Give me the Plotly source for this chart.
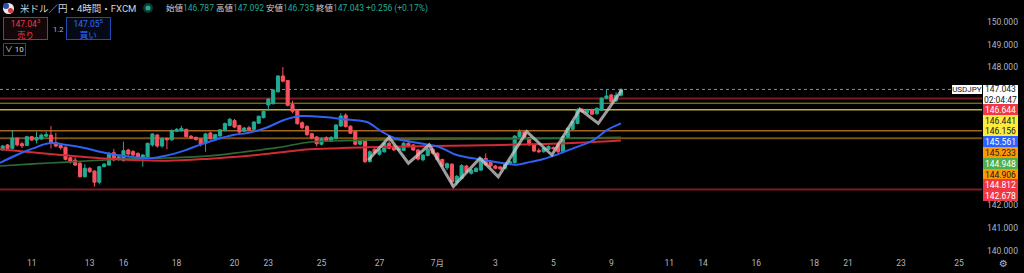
import datetime as dt
import plotly.graph_objects as go

# ---------------- data ----------------
OPEN = [144.40, 144.62, 144.47, 144.91, 144.67, 144.60, 144.98, 144.83, 144.88, 145.00,
        145.05, 144.72, 144.60, 144.52, 144.06, 143.96, 143.82, 143.23, 143.60, 143.48,
        142.99, 143.67, 143.74, 144.28, 143.98, 143.93, 144.40, 144.33, 144.25, 144.03,
        144.10, 144.62, 145.05, 144.57, 144.90, 144.84, 145.22, 145.25, 145.30, 145.00,
        144.95, 144.88, 144.69, 145.14, 144.87, 145.01, 145.26, 145.47, 145.69, 145.47,
        145.22, 145.37, 145.30, 145.57, 145.81, 146.36, 146.42, 146.94, 147.63, 147.43,
        146.38, 146.13, 145.59, 145.43, 145.11, 144.97, 144.65, 144.93, 144.78, 144.90,
        145.45, 145.92, 145.44, 145.20, 144.65, 144.80, 143.89, 144.43, 144.21, 144.32,
        144.69, 144.57, 144.40, 144.38, 144.69, 144.62, 144.40, 143.97, 144.16, 144.44,
        144.26, 143.98, 143.62, 143.78, 143.00, 143.15, 143.70, 143.38, 143.46, 143.52,
        144.03, 143.85, 143.70, 143.66, 143.60, 143.80, 143.85, 144.98, 145.18, 144.93,
        144.62, 144.38, 144.32, 144.42, 144.50, 144.66, 144.32, 144.92, 145.30, 145.56,
        146.17, 146.02, 146.17, 145.98, 146.14, 146.66, 146.80, 146.55, 146.787]
HIGH = [144.62, 144.66, 145.27, 144.95, 144.76, 145.02, 145.00, 145.20, 145.12, 145.20,
        145.44, 145.15, 144.65, 144.55, 144.10, 144.11, 143.90, 143.78, 143.65, 143.50,
        143.70, 143.83, 144.32, 144.45, 144.15, 144.76, 144.45, 144.40, 144.30, 144.22,
        144.72, 145.12, 145.10, 144.95, 144.95, 145.30, 145.35, 145.45, 145.33, 145.05,
        144.98, 144.92, 145.15, 145.20, 145.10, 145.30, 145.60, 145.80, 145.75, 145.50,
        145.40, 145.45, 145.65, 145.90, 146.12, 146.66, 147.05, 147.66, 148.02, 147.45,
        146.55, 146.18, 145.65, 145.48, 145.15, 145.00, 144.95, 145.00, 145.00, 145.52,
        146.00, 146.00, 145.47, 145.25, 144.85, 144.85, 144.38, 144.55, 144.50, 144.75,
        144.98, 144.60, 144.52, 144.75, 144.82, 144.66, 144.45, 144.22, 144.50, 144.52,
        144.30, 144.02, 143.85, 143.82, 143.30, 143.78, 143.75, 143.58, 143.65, 144.05,
        144.25, 143.95, 143.75, 143.70, 143.85, 143.95, 145.05, 145.30, 145.25, 144.97,
        144.66, 144.48, 144.52, 144.60, 144.56, 144.75, 145.02, 145.38, 145.68, 146.22,
        146.22, 146.20, 146.20, 146.26, 146.70, 147.02, 146.85, 146.92, 147.092]
LOW = [144.36, 144.42, 144.42, 144.55, 144.48, 144.56, 144.80, 144.69, 144.84, 144.97,
       144.47, 144.52, 144.42, 143.95, 143.80, 143.70, 143.20, 143.20, 143.40, 142.80,
       142.90, 143.65, 143.70, 143.90, 143.92, 143.90, 144.15, 144.10, 143.98, 143.67,
       144.05, 144.55, 144.50, 144.50, 144.43, 144.80, 145.18, 145.20, 144.95, 144.88,
       144.80, 144.55, 144.32, 144.85, 144.83, 144.98, 145.22, 145.44, 145.35, 145.10,
       145.18, 145.22, 145.27, 145.55, 145.78, 146.12, 146.38, 146.90, 147.35, 146.30,
       146.00, 145.50, 145.30, 145.00, 144.85, 144.55, 144.60, 144.75, 144.75, 144.85,
       145.40, 145.38, 145.10, 144.60, 144.60, 143.82, 143.85, 144.22, 144.15, 144.28,
       144.42, 144.35, 144.36, 144.35, 144.52, 144.36, 143.94, 143.90, 144.12, 144.20,
       143.92, 143.66, 143.52, 142.80, 142.85, 143.10, 143.40, 143.32, 143.42, 143.48,
       143.70, 143.65, 143.55, 143.52, 143.55, 143.76, 143.80, 144.95, 144.90, 144.58,
       144.30, 144.26, 144.28, 144.38, 144.40, 144.25, 144.25, 144.90, 145.28, 145.52,
       146.02, 145.98, 145.92, 145.95, 146.10, 146.62, 146.48, 146.50, 146.735]
CLOSE = [144.57, 144.47, 144.91, 144.62, 144.58, 144.98, 144.83, 144.94, 145.05, 145.07,
         144.69, 144.57, 144.50, 143.99, 143.89, 143.74, 143.23, 143.60, 143.45, 142.99,
         143.67, 143.78, 144.25, 143.96, 144.10, 144.37, 144.22, 144.18, 144.03, 144.18,
         144.69, 145.10, 144.57, 144.89, 144.84, 145.24, 145.30, 145.34, 144.98, 144.92,
         144.86, 144.66, 145.10, 144.89, 145.07, 145.28, 145.55, 145.74, 145.40, 145.18,
         145.36, 145.28, 145.62, 145.87, 146.09, 146.62, 147.02, 147.63, 147.40, 146.35,
         146.09, 145.55, 145.37, 145.07, 144.92, 144.67, 144.88, 144.80, 144.95, 145.49,
         145.88, 145.42, 145.13, 144.65, 144.80, 143.89, 144.32, 144.28, 144.40, 144.69,
         144.47, 144.40, 144.48, 144.69, 144.57, 144.40, 144.00, 144.18, 144.44, 144.26,
         143.98, 143.70, 143.80, 143.00, 143.25, 143.72, 143.45, 143.52, 143.60, 144.03,
         143.75, 143.70, 143.60, 143.58, 143.82, 143.89, 145.00, 145.20, 144.95, 144.62,
         144.35, 144.32, 144.47, 144.55, 144.46, 144.32, 144.98, 145.35, 145.63, 146.17,
         146.06, 146.15, 145.96, 146.22, 146.66, 146.76, 146.51, 146.79, 147.043]

# moving averages (candle position, price)
BLUE_X = [-0.56, 2.9, 6.3, 9.8, 13.3, 16.7, 20.1, 23.6, 27.0, 30.5, 34.0, 37.4, 40.8, 44.3,
          47.7, 51.2, 54.7, 58.1, 61.6, 65.0, 68.4, 71.9, 75.4, 78.5, 81.2, 86.4, 90.5, 94.0,
          98.8, 103.0, 106.4, 109.2, 111.2, 114.0, 118.1, 122.3, 125.1, 128.0]
BLUE_Y = [143.84, 144.18, 144.47, 144.70, 144.62, 144.50, 144.32, 144.18, 144.09, 144.04,
          144.16, 144.36, 144.62, 144.86, 145.05, 145.16, 145.38, 145.70, 145.88, 145.86,
          145.80, 145.72, 145.62, 145.20, 144.91, 144.69, 144.52, 144.18, 143.99, 143.84,
          143.75, 143.88, 143.96, 144.14, 144.47, 144.83, 145.27, 145.561]
RED_X = [-0.56, 9.8, 20.1, 27.0, 34.0, 42.9, 49.8, 56.8, 63.6, 67.8, 75.4, 89.1, 103.0, 116.8, 128.0]
RED_Y = [144.43, 144.22, 144.04, 143.96, 143.93, 144.02, 144.12, 144.28, 144.43, 144.46,
         144.52, 144.57, 144.62, 144.69, 144.812]
GREEN_X = [-0.56, 6.3, 13.3, 20.1, 27.0, 34.0, 42.9, 49.8, 56.8, 63.6, 67.8, 75.4, 89.1, 103.0, 116.8, 128.0]
GREEN_Y = [143.70, 143.79, 143.87, 143.95, 144.02, 144.05, 144.14, 144.31, 144.50, 144.75,
           144.79, 144.83, 144.87, 144.88, 144.91, 144.948]

# drawn zigzag path
ZZ_X = [75.7, 80.0, 84.0, 88.3, 93.3, 98.8, 102.6, 108.5, 113.7, 119.5, 123.3, 128.2]
ZZ_Y = [143.96, 144.95, 143.82, 144.62, 142.80, 144.04, 143.23, 145.20, 144.18, 146.18, 145.56, 147.02]

# horizontal levels
LEVEL_VALUES = [146.644, 146.441, 146.156, 145.233, 144.906, 142.678]
LEVEL_COLORS = ["#7a1c24", "#a3952a", "#c2b12f", "#a5661b", "#7a5210", "#7a1c24"]
LEVEL_WIDTHS = [2, 1, 1.5, 1.5, 2, 2]
LEVEL_LABEL_BG = ["#f23645", "#ffeb3b", "#ffeb3b", "#ff9800", "#ff9800", "#f23645"]
LEVEL_LABEL_FG = ["#ffffff", "#131722", "#131722", "#131722", "#131722", "#ffffff"]

MA_LABEL_BG = {"blue": "#2962ff", "green": "#4caf50", "red": "#f23645"}

# calendar / ticks
START_DAY = dt.date(2025, 6, 10)
CANDLES_PER_WEEKDAY = {0: 5, 1: 6, 2: 6, 3: 6, 4: 6, 5: 1, 6: 0}
TICK_DATES = ["2025-06-11", "2025-06-13", "2025-06-16", "2025-06-18", "2025-06-20",
              "2025-06-23", "2025-06-25", "2025-06-27", "2025-07-01", "2025-07-03",
              "2025-07-05", "2025-07-09", "2025-07-11", "2025-07-14", "2025-07-16",
              "2025-07-18", "2025-07-21", "2025-07-23", "2025-07-25"]
TICK_TEXT = ["11", "13", "16", "18", "20", "23", "25", "27", "7月", "3", "5", "9",
             "11", "14", "16", "18", "21", "23", "25"]
PRICE_TICKS = [140, 141, 142, 143, 144, 145, 146, 147, 148, 149, 150]

SYMBOL = "USDJPY"
TITLE = "米ドル／円・4時間・FXCM"
COUNTDOWN = "02:04:47"
CHANGE = 0.256
CHANGE_PCT = 0.17
BID_MAIN, BID_SUP = "147.04", "3"
ASK_MAIN, ASK_SUP = "147.05", "5"
SPREAD = "1.2"
INTERVAL_BTN = "10"

# ---------------- layout constants ----------------
W, H = 1024, 273
M_R, M_B = 42, 17
PLOT_W, PLOT_H = W - M_R, H - M_B
X_RANGE = [-0.56, 202.75]
Y_RANGE = [139.769, 150.948]
UP, DOWN = "#22ab94", "#f7525f"
AXIS_TXT = "#b2b5be"
FONT = "Roboto, 'Noto Sans CJK JP', sans-serif"

# candle slot index for each calendar day
slot_of_day = {}
d, n = START_DAY, 0
while n < 260:
    c = CANDLES_PER_WEEKDAY[d.weekday()]
    if c:
        slot_of_day[d.isoformat()] = n
    n += c
    d += dt.timedelta(days=1)
tick_vals = [slot_of_day[s] for s in TICK_DATES]

idx = list(range(len(OPEN)))

fig = go.Figure()

fig.add_trace(go.Candlestick(
    x=idx, open=OPEN, high=HIGH, low=LOW, close=CLOSE,
    increasing=dict(line=dict(color=UP, width=1), fillcolor=UP),
    decreasing=dict(line=dict(color=DOWN, width=1), fillcolor=DOWN),
    whiskerwidth=0, hoverinfo="skip"))

fig.add_trace(go.Scatter(x=GREEN_X, y=GREEN_Y, mode="lines",
                         line=dict(color="#2e6b32", width=1.6, shape="spline"), hoverinfo="skip"))
fig.add_trace(go.Scatter(x=RED_X, y=RED_Y, mode="lines",
                         line=dict(color="#d02a33", width=2, shape="spline"), hoverinfo="skip"))
fig.add_trace(go.Scatter(x=BLUE_X, y=BLUE_Y, mode="lines",
                         line=dict(color="#2f62f2", width=2, shape="spline"), hoverinfo="skip"))
fig.add_trace(go.Scatter(x=ZZ_X, y=ZZ_Y, mode="lines",
                         line=dict(color="rgba(200,200,200,0.78)", width=3), hoverinfo="skip"))

# horizontal levels
for v, col, w in zip(LEVEL_VALUES, LEVEL_COLORS, LEVEL_WIDTHS):
    fig.add_shape(type="line", xref="paper", x0=0, x1=1, yref="y", y0=v, y1=v,
                  line=dict(color=col, width=w), layer="below")
# current price dotted line
fig.add_shape(type="line", xref="paper", x0=0, x1=1, yref="y", y0=CLOSE[-1], y1=CLOSE[-1],
              line=dict(color="#8a8d96", width=1, dash="dot"), layer="below")

# ---------------- price-scale labels ----------------
ppu = PLOT_H / (Y_RANGE[1] - Y_RANGE[0])


def to_px(v):
    return (Y_RANGE[1] - v) * ppu


last = CLOSE[-1]
cur_top = to_px(last) - 4.6
cur_h = 19
fig.add_annotation(x=1, xref="paper", xanchor="left", xshift=1, y=last, yref="y",
                   yanchor="top", yshift=4.6, text=f"{last:.3f}<br>{COUNTDOWN}",
                   bgcolor="#ffffff", font=dict(family=FONT, size=8.5, color="#131722"),
                   width=35, height=cur_h, borderpad=0, borderwidth=0, showarrow=False, align="center")
fig.add_annotation(x=1, xref="paper", xanchor="right", xshift=0, y=last, yref="y",
                   yanchor="middle", yshift=-0.5, text=SYMBOL, bgcolor="#ffffff",
                   font=dict(family=FONT, size=8, color="#131722"),
                   width=30, height=9, borderpad=0, borderwidth=0, showarrow=False)

labels = [(v, bg, fg) for v, bg, fg in zip(LEVEL_VALUES, LEVEL_LABEL_BG, LEVEL_LABEL_FG)]
labels += [(BLUE_Y[-1], MA_LABEL_BG["blue"], "#ffffff"),
           (GREEN_Y[-1], MA_LABEL_BG["green"], "#ffffff"),
           (RED_Y[-1], MA_LABEL_BG["red"], "#ffffff")]
labels.sort(key=lambda t: -t[0])
LBL_H = 10.8
prev_bottom = cur_top + cur_h
for v, bg, fg in labels:
    nat = to_px(v)
    c = max(nat, prev_bottom + LBL_H / 2)
    prev_bottom = c + LBL_H / 2
    fig.add_annotation(x=1, xref="paper", xanchor="left", xshift=1, y=v, yref="y",
                       yanchor="middle", yshift=nat - c, text=f"{v:.3f}", bgcolor=bg,
                       font=dict(family=FONT, size=8.5, color=fg),
                       width=35, height=11, borderpad=0, borderwidth=0, showarrow=False)

# price-scale ticks that sit under the label stack are hidden (as on the scale)
stack_top, stack_bottom = cur_top, prev_bottom
shown_ticks = [t for t in PRICE_TICKS
               if not (stack_top - 4 <= to_px(t) <= stack_bottom + 2)]


# ---------------- header ----------------
def px(xp):
    return xp / PLOT_W


def py(yp):
    return 1 - yp / PLOT_H


ohlc = (f"始値<span style='color:{UP}'>{OPEN[-1]:.3f}</span> "
        f"高値<span style='color:{UP}'>{HIGH[-1]:.3f}</span> "
        f"安値<span style='color:{UP}'>{LOW[-1]:.3f}</span> "
        f"終値<span style='color:{UP}'>{CLOSE[-1]:.3f} +{CHANGE:.3f} (+{CHANGE_PCT:.2f}%)</span>")
fig.add_annotation(x=px(18), y=py(8), xref="paper", yref="paper", xanchor="left", yanchor="middle",
                   text=TITLE, font=dict(family=FONT, size=9.5, color="#d1d4dc"), showarrow=False)
fig.add_annotation(x=px(164), y=py(8), xref="paper", yref="paper", xanchor="left", yanchor="middle",
                   text=ohlc, font=dict(family=FONT, size=8.5, color="#d1d4dc"), showarrow=False)
# flag-like icon and status dot
fig.add_shape(type="circle", xref="paper", yref="paper", x0=px(3), x1=px(14), y0=py(14), y1=py(3),
              fillcolor="#e8e8ee", line=dict(width=0))
fig.add_shape(type="circle", xref="paper", yref="paper", x0=px(3), x1=px(9), y0=py(9), y1=py(3),
              fillcolor="#2f4fa8", line=dict(width=0))
fig.add_shape(type="circle", xref="paper", yref="paper", x0=px(8), x1=px(13), y0=py(13), y1=py(8),
              fillcolor="#d8323c", line=dict(width=0))
fig.add_shape(type="circle", xref="paper", yref="paper", x0=px(143), x1=px(153), y0=py(13), y1=py(3),
              fillcolor="#0f3a32", line=dict(width=0))
fig.add_shape(type="circle", xref="paper", yref="paper", x0=px(145.5), x1=px(150.5), y0=py(10.5), y1=py(5.5),
              fillcolor=UP, line=dict(width=0))

fig.add_annotation(x=px(25.5), y=py(28.5), xref="paper", yref="paper", xanchor="center", yanchor="middle",
                   text=f"{BID_MAIN}<sup>{BID_SUP}</sup><br>売り",
                   font=dict(family=FONT, size=8.5, color="#f23645"), bgcolor="#140709",
                   bordercolor="#b52630", borderwidth=1, borderpad=0, width=43, height=21,
                   showarrow=False, align="center")
fig.add_annotation(x=px(57.5), y=py(29), xref="paper", yref="paper", xanchor="center", yanchor="middle",
                   text=SPREAD, font=dict(family=FONT, size=7.5, color="#b2b5be"), showarrow=False)
fig.add_annotation(x=px(88), y=py(28.5), xref="paper", yref="paper", xanchor="center", yanchor="middle",
                   text=f"{ASK_MAIN}<sup>{ASK_SUP}</sup><br>買い",
                   font=dict(family=FONT, size=8.5, color="#2f6bff"), bgcolor="#060a17",
                   bordercolor="#2049b8", borderwidth=1, borderpad=0, width=43, height=21,
                   showarrow=False, align="center")
fig.add_annotation(x=px(14.5), y=py(49.5), xref="paper", yref="paper", xanchor="center", yanchor="middle",
                   text=f"∨ {INTERVAL_BTN}", font=dict(family=FONT, size=8, color="#d1d4dc"),
                   bgcolor="#000000", bordercolor="#434651", borderwidth=1, borderpad=0,
                   width=21, height=11, showarrow=False)
# settings icon in price-scale corner
fig.add_annotation(x=px(1003), y=py(263.5), xref="paper", yref="paper", xanchor="center", yanchor="middle",
                   text="⚙", font=dict(family="DejaVu Sans", size=10, color="#b2b5be"), showarrow=False)

fig.update_layout(
    width=W, height=H, margin=dict(l=0, r=M_R, t=0, b=M_B),
    paper_bgcolor="#000000", plot_bgcolor="#000000", showlegend=False,
    boxgap=0.2, boxgroupgap=0.2,
    xaxis=dict(range=X_RANGE, tickmode="array", tickvals=tick_vals, ticktext=TICK_TEXT,
               showgrid=False, zeroline=False, showline=False, ticks="",
               tickfont=dict(family=FONT, size=8.5, color=AXIS_TXT),
               rangeslider=dict(visible=False), fixedrange=True),
    yaxis=dict(range=Y_RANGE, side="right", tickmode="array", tickvals=shown_ticks,
               ticktext=[f"{t:.3f}" for t in shown_ticks],
               showgrid=False, zeroline=False, showline=False, ticks="",
               ticklabelstandoff=4,
               tickfont=dict(family=FONT, size=8.5, color=AXIS_TXT), fixedrange=True),
)

fig.write_html("out.html")
